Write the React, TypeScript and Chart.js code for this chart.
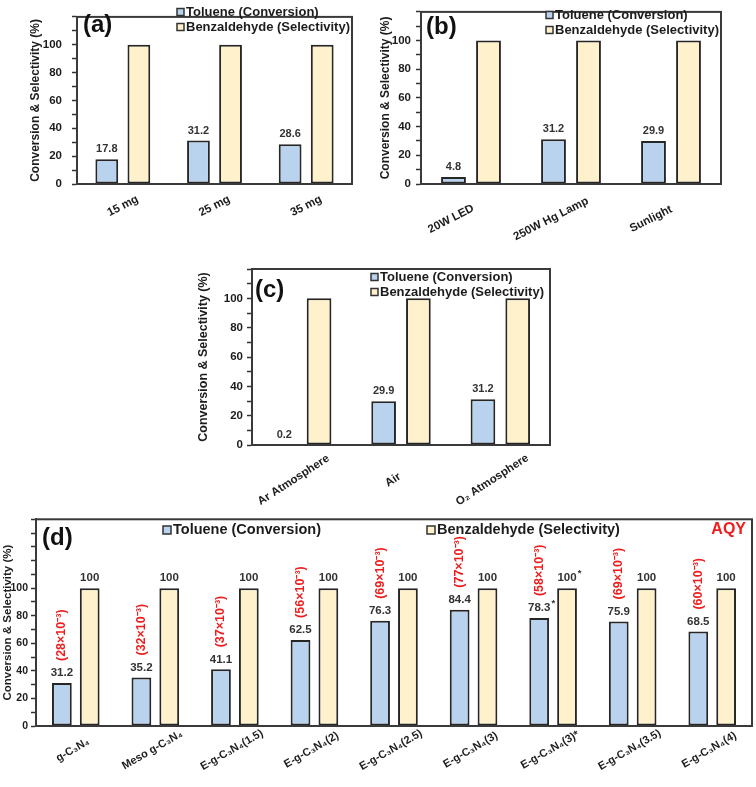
import React, { useEffect, useRef } from 'react';
import { Chart, registerables } from 'chart.js';

Chart.register(...registerables);

// ---------- data ----------
const seriesNames = ['Toluene (Conversion)', 'Benzaldehyde (Selectivity)'];

const aCategories = ['15 mg', '25 mg', '35 mg'];
const aToluene = [17.8, 31.2, 28.6];
const aBenzaldehyde = [100, 100, 100];

const bCategories = ['20W LED', '250W Hg Lamp', 'Sunlight'];
const bToluene = [4.8, 31.2, 29.9];
const bBenzaldehyde = [100, 100, 100];

const cCategories = ['Ar Atmosphere', 'Air', 'O₂ Atmosphere'];
const cToluene = [0.2, 29.9, 31.2];
const cBenzaldehyde = [100, 100, 100];

const dCategories = [
  'g-C₃N₄', 'Meso g-C₃N₄', 'E-g-C₃N₄(1.5)', 'E-g-C₃N₄(2)', 'E-g-C₃N₄(2.5)',
  'E-g-C₃N₄(3)', 'E-g-C₃N₄(3)*', 'E-g-C₃N₄(3.5)', 'E-g-C₃N₄(4)',
];
const dToluene = [31.2, 35.2, 41.1, 62.5, 76.3, 84.4, 78.3, 75.9, 68.5];
const dBenzaldehyde = [100, 100, 100, 100, 100, 100, 100, 100, 100];
const dStarred = [false, false, false, false, false, false, true, false, false];
const dAqy = [28, 32, 37, 56, 69, 77, 58, 69, 60];

const yTickLabels = [0, 20, 40, 60, 80, 100];
const yTitle = 'Conversion & Selectivity (%)';
const aqyTitle = 'AQY';

// ---------- styles ----------
const FONT = '"Liberation Sans", Arial, Helvetica, sans-serif';
const BLUE = '#b9d2ee';
const YELLOW = '#fff1cb';
const EDGE = '#262626';
const FRAME = '#3a3a3a';
const TEXT = '#1c1c1c';
const VAL = '#333333';
const RED = '#f01c1c';

const decorPlugin = {
  id: 'decor',
  afterDatasetsDraw(chart: any, _args: any, o: any) {
    const ctx = chart.ctx as CanvasRenderingContext2D;
    const area = chart.chartArea;
    ctx.save();
    // frame
    ctx.strokeStyle = FRAME;
    ctx.lineWidth = 2;
    ctx.strokeRect(area.left, area.top, area.right - area.left, area.bottom - area.top);

    // category labels (rotated, centred)
    const xs = chart.scales.x;
    const labels: string[] = chart.data.labels;
    const ang = (o.xAngle * Math.PI) / 180;
    ctx.font = `bold ${o.xFont}px ${FONT}`;
    ctx.fillStyle = TEXT;
    ctx.textAlign = 'center';
    ctx.textBaseline = 'middle';
    labels.forEach((lab, i) => {
      const x = xs.getPixelForValue(i) + o.xShift;
      const y = area.bottom + o.xDrop;
      ctx.save();
      ctx.translate(x, y);
      ctx.rotate(-ang);
      ctx.fillText(lab, 0, 0);
      ctx.restore();
    });

    // value labels
    ctx.font = `bold ${o.valFont}px ${FONT}`;
    ctx.fillStyle = VAL;
    const starred: boolean[] = o.starred || [];
    const showSets: number[] = o.valueSets;
    showSets.forEach((di) => {
      const meta = chart.getDatasetMeta(di);
      const vals: number[] = chart.data.datasets[di].data;
      meta.data.forEach((bar: any, i: number) => {
        const v = vals[i];
        const txt = di === 0 ? v.toFixed(1) : String(v);
        const y = bar.y - o.valGap;
        ctx.textAlign = 'center';
        ctx.textBaseline = 'middle';
        ctx.fillText(txt, bar.x, y);
        if (starred[i]) {
          const w = ctx.measureText(txt).width;
          ctx.save();
          ctx.font = `bold ${o.valFont - 2}px ${FONT}`;
          ctx.textAlign = 'left';
          ctx.fillText('*', bar.x + w / 2 + 1, y - 5);
          ctx.restore();
        }
      });
    });

    // AQY labels (vertical, red)
    if (o.aqy) {
      const meta = chart.getDatasetMeta(0);
      ctx.font = `bold ${o.aqyFont}px ${FONT}`;
      ctx.fillStyle = RED;
      ctx.textAlign = 'left';
      ctx.textBaseline = 'middle';
      meta.data.forEach((bar: any, i: number) => {
        ctx.save();
        ctx.translate(bar.x, bar.y - o.aqyGap);
        ctx.rotate(-Math.PI / 2);
        ctx.fillText(`(${o.aqy[i]}×10⁻³)`, 0, 0);
        ctx.restore();
      });
    }

    // legend
    const lg = o.legend;
    ctx.font = `bold ${lg.font}px ${FONT}`;
    ctx.textAlign = 'left';
    ctx.textBaseline = 'middle';
    chart.data.datasets.forEach((ds: any, i: number) => {
      const mx = lg.xs[i];
      const my = lg.ys[i];
      const s = lg.box;
      ctx.fillStyle = ds.backgroundColor;
      ctx.fillRect(mx, my - s / 2, s, s);
      ctx.strokeStyle = '#333';
      ctx.lineWidth = 1.5;
      ctx.strokeRect(mx, my - s / 2, s, s);
      ctx.fillStyle = TEXT;
      ctx.fillText(ds.label, mx + s + 2, my);
    });
    if (lg.aqyX) {
      ctx.font = `bold ${lg.aqyFont}px ${FONT}`;
      ctx.fillStyle = RED;
      ctx.textAlign = 'right';
      ctx.fillText(aqyTitle, lg.aqyX, lg.ys[0]);
    }

    // panel tag
    ctx.font = `bold ${o.tag.size}px ${FONT}`;
    ctx.fillStyle = '#111';
    ctx.textAlign = 'left';
    ctx.textBaseline = 'middle';
    ctx.fillText(o.tag.text, o.tag.x, o.tag.y);
    ctx.restore();
  },
};

type Spec = {
  left: number; top: number; w: number; h: number;
  yW: number; padTop: number; padRight: number; xH: number; max: number;
  categories: string[]; toluene: number[]; benz: number[];
  tickFont: number; tickPad: number; titleFont: number; titlePad: number;
  decor: any;
};

function makeConfig(p: Spec): any {
  const dsCommon = {
    borderColor: EDGE,
    borderWidth: 2,
    borderSkipped: false,
    categoryPercentage: 0.7,
    barPercentage: 0.71,
  };
  return {
    type: 'bar',
    data: {
      labels: p.categories,
      datasets: [
        { label: seriesNames[0], data: p.toluene, backgroundColor: BLUE, ...dsCommon },
        { label: seriesNames[1], data: p.benz, backgroundColor: YELLOW, ...dsCommon },
      ],
    },
    options: {
      responsive: false,
      maintainAspectRatio: false,
      animation: false,
      layout: { padding: { top: p.padTop, right: p.padRight, left: 0, bottom: 0 } },
      plugins: {
        legend: { display: false },
        tooltip: { enabled: false },
        decor: p.decor,
      },
      scales: {
        x: {
          grid: { display: false },
          ticks: { display: false },
          border: { display: false },
          afterFit: (s: any) => { s.height = p.xH; },
        },
        y: {
          min: 0,
          max: p.max,
          ticks: {
            stepSize: 10,
            autoSkip: false,
            padding: p.tickPad,
            color: TEXT,
            font: { family: FONT, size: p.tickFont, weight: 'bold' },
            callback: (v: number) => (yTickLabels.includes(v) ? String(v) : ''),
          },
          grid: { drawOnChartArea: false, drawTicks: true, tickLength: 5, tickColor: '#333', tickWidth: 1.5 },
          border: { display: true, color: FRAME, width: 2 },
          title: {
            display: true,
            text: yTitle,
            color: TEXT,
            font: { family: FONT, size: p.titleFont, weight: 'bold' },
            padding: { top: p.titlePad, bottom: 0 },
          },
          afterFit: (s: any) => { s.width = p.yW; },
        },
      },
    },
    plugins: [decorPlugin],
  };
}

const specA: Spec = {
  left: 0, top: 0, w: 378, h: 240,
  yW: 77, padTop: 4, padRight: 26, xH: 56, max: 120,
  categories: aCategories, toluene: aToluene, benz: aBenzaldehyde,
  tickFont: 11.5, tickPad: 10, titleFont: 12, titlePad: 28,
  decor: {
    xAngle: 27, xFont: 11.5, xShift: 0, xDrop: 22,
    valFont: 11, valGap: 10, valueSets: [0],
    legend: { font: 13, box: 7, xs: [177, 177], ys: [12, 27] },
    tag: { text: '(a)', x: 83, y: 25, size: 24 },
  },
};

const specB: Spec = {
  left: 378, top: 0, w: 378, h: 250,
  yW: 43, padTop: 6, padRight: 35, xH: 66, max: 120,
  categories: bCategories, toluene: bToluene, benz: bBenzaldehyde,
  tickFont: 11.5, tickPad: 5, titleFont: 12, titlePad: 0,
  decor: {
    xAngle: 27, xFont: 11.5, xShift: -20, xDrop: 35,
    valFont: 11, valGap: 10, valueSets: [0],
    legend: { font: 13, box: 7, xs: [168, 168], ys: [15, 30] },
    tag: { text: '(b)', x: 48, y: 27, size: 24 },
  },
};

const specC: Spec = {
  left: 190, top: 250, w: 380, h: 260,
  yW: 62, padTop: 19, padRight: 20, xH: 65, max: 120,
  categories: cCategories, toluene: cToluene, benz: cBenzaldehyde,
  tickFont: 11.5, tickPad: 4, titleFont: 12.5, titlePad: 6,
  decor: {
    xAngle: 33, xFont: 11.5, xShift: -8, xDrop: 35,
    valFont: 11, valGap: 10, valueSets: [0],
    legend: { font: 13, box: 7, xs: [181, 181], ys: [27, 42] },
    tag: { text: '(c)', x: 65, y: 40, size: 24 },
  },
};

const specD: Spec = {
  left: 0, top: 510, w: 756, h: 277,
  yW: 36, padTop: 8, padRight: 4, xH: 61, max: 150,
  categories: dCategories, toluene: dToluene, benz: dBenzaldehyde,
  tickFont: 10.5, tickPad: 3, titleFont: 11.5, titlePad: 1,
  decor: {
    xAngle: 30, xFont: 11, xShift: -3, xDrop: 24,
    valFont: 11.5, valGap: 10, valueSets: [0, 1], starred: dStarred,
    aqy: dAqy, aqyFont: 12.5, aqyGap: 22,
    legend: { font: 14.5, box: 8, xs: [163, 427], ys: [20, 20], aqyX: 746, aqyFont: 16 },
    tag: { text: '(d)', x: 42, y: 28, size: 24 },
  },
};

function Panel({ spec }: { spec: Spec }) {
  const ref = useRef<HTMLCanvasElement | null>(null);
  useEffect(() => {
    const chart = new Chart(ref.current as HTMLCanvasElement, makeConfig(spec));
    return () => chart.destroy();
  }, [spec]);
  return (
    <canvas
      ref={ref}
      width={spec.w}
      height={spec.h}
      style={{ position: 'absolute', left: spec.left, top: spec.top, width: spec.w, height: spec.h }}
    />
  );
}

export default function App() {
  return (
    <div style={{ position: 'absolute', left: 0, top: 0, width: 756, height: 787, background: '#fff', overflow: 'hidden' }}>
      <Panel spec={specA} />
      <Panel spec={specB} />
      <Panel spec={specC} />
      <Panel spec={specD} />
    </div>
  );
}
